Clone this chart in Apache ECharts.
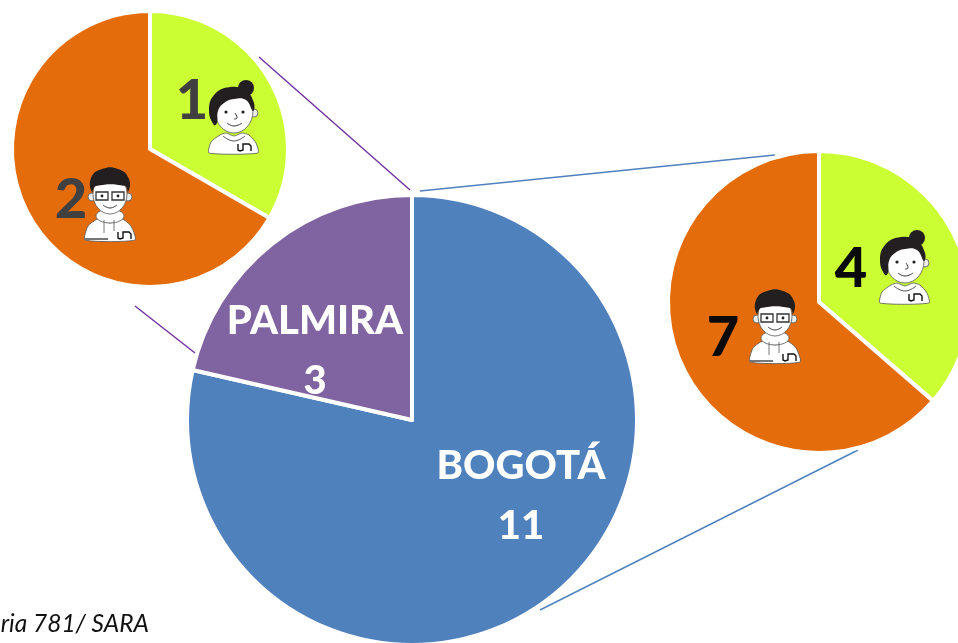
<!DOCTYPE html>
<html>
<head>
<meta charset="utf-8">
<style>
  html, body { margin: 0; padding: 0; background: #fff; overflow: hidden; }
  #chart { width: 958px; height: 643px; }
</style>
<script src="https://cdn.jsdelivr.net/npm/echarts@6/dist/echarts.min.js"></script>
</head>
<body>
<div id="chart"></div>
<script>
// values
const campuses = ['BOGOTÁ', 'PALMIRA'];
const campusValues = [11, 3];
const genders = ['Mujeres', 'Hombres'];
const palmiraValues = [1, 2];
const bogotaValues = [4, 7];
const sourceNote = 'ria 781/ SARA';

const BLUE = '#4F81BD', PURPLE = '#8064A2', ORANGE = '#E46C0A', LIME = '#CCFF33';
const DARK = '#231F20', Z = 10;

const toData = (names, values, colors) =>
  names.map((name, i) => ({ name, value: values[i], itemStyle: { color: colors[i] } }));

// pie with its labels put by hand, like in the slide
function pie(name, center, radius, data, labelPos, label) {
  return {
    type: 'pie',
    name,
    center,
    radius,
    startAngle: 90,
    clockwise: true,
    silent: true,
    animation: false,
    data,
    itemStyle: { borderColor: '#fff', borderWidth: 4 },
    labelLine: { show: false },
    label: Object.assign({ show: true, position: 'inside', fontFamily: 'Lato', fontWeight: 900 }, label),
    labelLayout: (p) => ({ x: labelPos[p.dataIndex][0], y: labelPos[p.dataIndex][1], align: 'center', verticalAlign: 'middle' }),
  };
}

const seg = (x1, y1, x2, y2, color) => ({
  type: 'line', silent: true, z: 1,
  shape: { x1, y1, x2, y2 },
  style: { stroke: color, lineWidth: 1.4 },
});

// "un" logo printed on the shirts
function logo(x, y) {
  return {
    type: 'polyline', z: Z, silent: true,
    shape: { points: [[x, y - 8], [x, y - 2], [x + 2, y - 1], [x + 5, y - 2], [x + 5, y - 8], [x + 8, y - 8], [x + 8, y - 8], [x + 11, y - 8], [x + 13, y - 6], [x + 13, y - 1]] },
    style: { stroke: '#111', fill: null, lineWidth: 1.4 },
  };
}

function womanIcon(x, y) {
  const s = { stroke: '#555', lineWidth: 0.8 };
  return {
    type: 'group', x, y, silent: true,
    children: [
      { type: 'polygon', z: Z, shape: { smooth: 0.2, points: [[-25, 0], [-23, -11], [-14, -18], [-8, -20], [0, -17], [8, -20], [15, -18], [22, -10], [24, 0]] }, style: { fill: '#fff', ...s } },
      { type: 'circle', z: Z, shape: { cx: 20, cy: -40, r: 4 }, style: { fill: '#eee', ...s } },
      { type: 'ellipse', z: Z, shape: { cx: 0, cy: -42, rx: 19, ry: 22 }, style: { fill: '#fff', ...s } },
      { type: 'polygon', z: Z, shape: { smooth: 0.45, points: [[-20, -28], [-25, -42], [-20, -58], [-4, -66], [12, -62], [20, -50], [19, -42], [12, -53], [0, -54], [-10, -50], [-16, -42], [-17, -30]] }, style: { fill: DARK } },
      { type: 'circle', z: Z, shape: { cx: 12, cy: -65, r: 8 }, style: { fill: DARK } },
      { type: 'circle', z: Z, shape: { cx: -8, cy: -41, r: 1.6 }, style: { fill: DARK } },
      { type: 'circle', z: Z, shape: { cx: 9, cy: -41, r: 1.6 }, style: { fill: DARK } },
      { type: 'polyline', z: Z, shape: { smooth: 0.5, points: [[-7, -30], [0, -27], [8, -30]] }, style: { stroke: '#333', fill: null, lineWidth: 1 } },
      { type: 'polyline', z: Z, shape: { smooth: 0.5, points: [[1, -40], [3, -35], [0, -34]] }, style: { stroke: '#333', fill: null, lineWidth: 1 } },
      { type: 'polyline', z: Z, shape: { smooth: 0.5, points: [[-11, -17], [0, -12], [11, -17]] }, style: { stroke: '#444', fill: null, lineWidth: 0.9 } },
      logo(4, -1),
    ],
  };
}

function manIcon(x, y) {
  const s = { stroke: '#555', lineWidth: 0.8 };
  return {
    type: 'group', x, y, silent: true,
    children: [
      { type: 'polygon', z: Z, shape: { smooth: 0.2, points: [[-25, 0], [-22, -14], [-12, -21], [0, -17], [12, -21], [21, -14], [25, 0]] }, style: { fill: '#fff', ...s } },
      { type: 'ellipse', z: Z, shape: { cx: 0, cy: -24, rx: 14, ry: 7 }, style: { fill: '#fff', ...s } },
      { type: 'circle', z: Z, shape: { cx: -18, cy: -43, r: 4 }, style: { fill: '#eee', ...s } },
      { type: 'circle', z: Z, shape: { cx: 18, cy: -43, r: 4 }, style: { fill: '#eee', ...s } },
      { type: 'ellipse', z: Z, shape: { cx: 0, cy: -46, rx: 17, ry: 20 }, style: { fill: '#fff', ...s } },
      { type: 'polygon', z: Z, shape: { smooth: 0.5, points: [[-18, -48], [-19, -62], [-8, -71], [8, -71], [19, -61], [18, -48], [15, -54], [-14, -54]] }, style: { fill: DARK } },
      { type: 'rect', z: Z, shape: { x: -14, y: -48, width: 12, height: 8 }, style: { fill: 'none', stroke: '#333', lineWidth: 1.3 } },
      { type: 'rect', z: Z, shape: { x: 2, y: -48, width: 12, height: 8 }, style: { fill: 'none', stroke: '#333', lineWidth: 1.3 } },
      { type: 'circle', z: Z, shape: { cx: -8, cy: -44, r: 1.4 }, style: { fill: DARK } },
      { type: 'circle', z: Z, shape: { cx: 8, cy: -44, r: 1.4 }, style: { fill: DARK } },
      { type: 'polyline', z: Z, shape: { smooth: 0.5, points: [[-7, -35], [0, -32], [7, -35]] }, style: { stroke: '#333', fill: null, lineWidth: 1 } },
      { type: 'line', z: Z, shape: { x1: -6, y1: -20, x2: -6, y2: -7 }, style: { stroke: '#555', lineWidth: 0.8 } },
      { type: 'line', z: Z, shape: { x1: 4, y1: -20, x2: 4, y2: -9 }, style: { stroke: '#555', lineWidth: 0.8 } },
      { type: 'rect', z: Z, shape: { x: -25, y: -2, width: 23, height: 2 }, style: { fill: '#777' } },
      logo(8, 0),
    ],
  };
}

const chart = echarts.init(document.getElementById('chart'), null, { renderer: 'canvas' });

chart.setOption({
  animation: false,
  backgroundColor: '#fff',
  series: [
    pie('Sedes', [412, 420], 225, toData(campuses, campusValues, [BLUE, PURPLE]),
      [[521, 496], [315, 351]],
      { formatter: '{b}\n{c}', color: '#fff', fontSize: 40, lineHeight: 60 }),
    pie('Palmira', [150, 149], 138, toData(genders, palmiraValues, [LIME, ORANGE]),
      [[192, 101], [71, 200]],
      { formatter: '{c}', color: '#404040', fontSize: 56 }),
    pie('Bogotá', [819, 302], 151, toData(genders, bogotaValues, [LIME, ORANGE]),
      [[851, 269], [723, 338]],
      { formatter: '{c}', color: '#0a0a0a', fontSize: 56 }),
  ],
  graphic: [
    seg(259, 57, 410, 190, '#7030A0'),
    seg(135, 306, 195, 353, '#7030A0'),
    seg(420, 191, 775, 155, BLUE),
    seg(858, 450, 540, 610, BLUE),
    womanIcon(234, 153),
    manIcon(110, 240),
    womanIcon(905, 303),
    manIcon(775, 362),
    {
      type: 'text', x: 149, y: 624, silent: true,
      style: { text: sourceNote, fill: '#111', font: 'italic 24.5px Lato', textAlign: 'right', textVerticalAlign: 'middle' },
    },
  ],
});
</script>
</body>
</html>
